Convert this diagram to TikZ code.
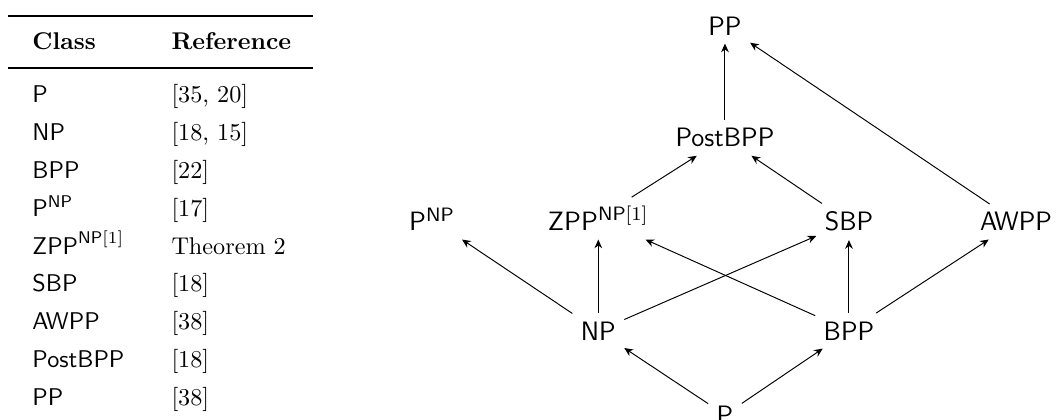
\documentclass[tikz,border=0pt]{standalone}
\usepackage{amsmath}
\usetikzlibrary{arrows.meta}

\tikzset{
  cls/.style={font=\fontsize{11}{13}\selectfont\sffamily, anchor=base},
  incl/.style={-{Stealth[length=3.6pt, width=3.2pt]}},
  cell/.style={anchor=base west, inner sep=0pt},
}

\begin{document}
\begin{tikzpicture}[x=1cm, y=1cm]
\useasboundingbox (0,0) rectangle (15.338,6.086);

% Table: class and where it comes from
\draw[line width=0.8pt] (0.116,5.853) -- (4.546,5.853);
\node[cell] (hcls) at (0.465,5.36) {\textbf{Class}};
\node[cell] (href) at (2.484,5.36) {\textbf{Reference}};
\draw[line width=0.5pt] (0.116,5.098) -- (4.546,5.098);
\foreach \i/\c/\r in {0/\textsf{P}/{[35, 20]}, 1/\textsf{NP}/{[18, 15]},
    2/\textsf{BPP}/{[22]}, 3/$\mathsf{P}^{\mathsf{NP}}$/{[17]},
    4/$\mathsf{ZPP}^{\mathsf{NP}[1]}$/{Theorem 2}, 5/\textsf{SBP}/{[18]},
    6/\textsf{AWPP}/{[38]}, 7/\textsf{PostBPP}/{[18]}, 8/\textsf{PP}/{[38]}} {
    \node[cell] (c\i) at (0.465, 4.597-0.5501*\i) {\c};
    \node[cell] (r\i) at (2.484, 4.597-0.5501*\i) {\r};
}

% Classes
\node[cls] (pp) at (10.530,5.577) {PP};
\node[cls] (postbpp) at (10.530,3.951) {PostBPP};
\node[cls] (pnp) at (6.275,2.731) {$\mathsf{P}^{\mathsf{NP}}$};
\node[cls] (zpp) at (8.690,2.731) {$\mathsf{ZPP}^{\mathsf{NP}[1]}$};
\node[cls] (sbp) at (12.331,2.731) {SBP};
\node[cls] (awpp) at (14.757,2.731) {AWPP};
\node[cls] (np) at (8.690,1.147) {NP};
\node[cls] (bpp) at (12.331,1.147) {BPP};
\node[cls] (p) at (10.530,-0.073) {P};

% Inclusions
\draw[incl] (p) -- (np);
\draw[incl] (p) -- (bpp);
\draw[incl] (np) -- (pnp);
\draw[incl] (np) -- (zpp);
\draw[incl] (np) -- (sbp);
\draw[incl] (bpp) -- (zpp);
\draw[incl] (bpp) -- (sbp);
\draw[incl] (bpp) -- (awpp);
\draw[incl] (zpp) -- (postbpp);
\draw[incl] (sbp) -- (postbpp);
\draw[incl] (postbpp) -- (pp);
\draw[incl] (awpp) -- (pp);
\end{tikzpicture}
\end{document}
